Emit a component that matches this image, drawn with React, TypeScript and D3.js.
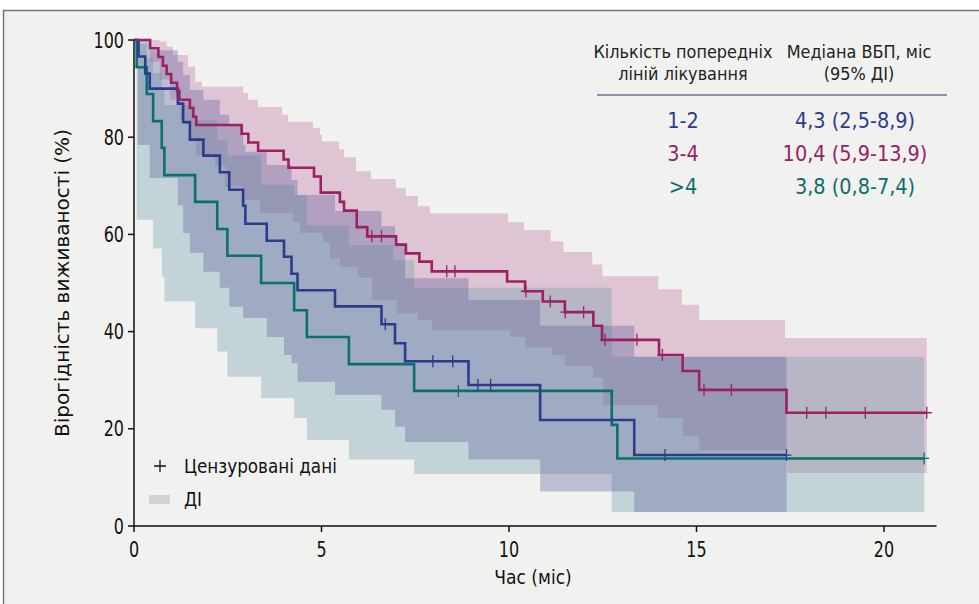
import * as d3 from 'd3';
import { useEffect, useRef } from 'react';

type Pt = [number, number];

const xTicks = [0, 5, 10, 15, 20];
const yTicks = [0, 20, 40, 60, 80, 100];

// 1-2 prior lines: KM drops [month, %], censored times, CI bounds
const steps12: Pt[] = [[0.12, 96.6], [0.3, 93.1], [0.42, 90.0], [1.17, 86.9], [1.31, 83.1], [1.49, 79.5], [1.85, 76.2], [2.29, 72.8], [2.54, 69.2], [2.91, 65.9], [2.97, 62.2], [3.54, 58.7], [4.0, 55.4], [4.2, 51.9], [4.36, 48.5], [5.36, 45.2], [6.6, 41.5], [6.96, 37.6], [7.23, 33.9], [8.92, 29.0], [10.83, 21.8], [13.34, 14.6]];
const censor12 = [6.7, 7.97, 8.5, 9.17, 9.51, 14.16, 17.4];
const end12 = 17.4;
const upper12: Pt[] = [[0, 100], [0.42, 97.9], [1.17, 95.5], [1.31, 92.8], [1.49, 89.7], [1.85, 87.7], [2.29, 84.6], [2.54, 82.5], [2.91, 78.4], [2.97, 77.0], [3.54, 74.3], [4.2, 71.2], [4.36, 68.1], [5.36, 64.8], [6.6, 61.7], [6.96, 58.2], [7.23, 51.0], [8.92, 46.5], [10.83, 41.2], [13.34, 34.8]];
const lower12: Pt[] = [[0, 100], [0.1, 78.4], [0.42, 71.6], [1.17, 66.0], [1.31, 60.3], [1.49, 56.2], [1.85, 52.3], [2.29, 49.0], [2.54, 45.1], [2.91, 42.8], [3.54, 38.9], [4.0, 35.2], [4.2, 33.5], [4.36, 29.7], [5.36, 27.0], [6.6, 23.9], [6.96, 20.4], [7.23, 17.3], [8.92, 13.7], [10.83, 7.1], [13.34, 2.9]];

// 3-4 prior lines
const steps34: Pt[] = [[0.43, 98.3], [0.65, 96.5], [0.77, 94.7], [0.87, 93.0], [0.99, 91.2], [1.15, 89.5], [1.21, 87.7], [1.49, 86.0], [1.58, 84.2], [1.66, 82.5], [2.87, 80.7], [3.05, 78.9], [3.31, 77.2], [3.99, 75.4], [4.12, 73.7], [4.8, 71.9], [4.98, 68.6], [5.49, 66.7], [5.6, 64.9], [5.94, 61.5], [6.22, 59.6], [6.99, 57.9], [7.25, 56.1], [7.61, 54.4], [7.94, 52.4], [9.95, 50.3], [10.43, 48.3], [10.9, 46.2], [11.49, 44.0], [12.25, 41.2], [12.48, 38.3], [14.0, 35.2], [14.63, 31.9], [15.07, 28.0], [17.4, 23.3]];
const censor34 = [6.34, 6.6, 8.34, 8.56, 10.45, 11.1, 11.5, 11.99, 12.56, 13.41, 14.09, 15.2, 15.93, 17.94, 18.45, 19.5, 21.14];
const end34 = 21.14;
const upper34: Pt[] = [[0, 100], [0.69, 99.7], [0.87, 98.6], [1.04, 96.9], [1.44, 94.5], [1.63, 91.4], [1.81, 90.4], [2.91, 89.1], [3.04, 87.7], [3.3, 86.2], [3.95, 84.6], [4.11, 83.2], [4.77, 81.9], [4.96, 80.5], [5.01, 79.1], [5.47, 77.5], [5.6, 75.9], [5.92, 73.0], [6.32, 71.4], [6.98, 69.5], [7.25, 67.9], [7.57, 65.8], [7.89, 64.3], [9.97, 62.5], [10.4, 60.9], [11.11, 58.6], [11.45, 56.4], [12.22, 53.8], [12.49, 51.4], [13.98, 48.7], [14.61, 45.5], [15.07, 42.4], [17.36, 38.7]];
const lower34: Pt[] = [[0, 100], [0.43, 95.5], [0.69, 91.8], [0.96, 87.7], [1.23, 83.5], [1.49, 79.4], [1.65, 76.3], [2.16, 74.1], [2.43, 69.8], [2.88, 67.1], [3.36, 64.4], [4.24, 62.6], [4.43, 60.3], [5.04, 58.4], [5.23, 55.1], [5.49, 53.3], [5.97, 51.2], [6.35, 46.5], [7.01, 43.8], [7.57, 42.4], [7.95, 40.3], [10.03, 38.9], [10.43, 36.8], [11.15, 35.2], [11.49, 32.9], [12.24, 30.5], [12.51, 24.9], [13.97, 22.2], [14.64, 18.5], [15.07, 15.6], [17.41, 10.9]];

// >4 prior lines
const steps4: Pt[] = [[0.07, 94.4], [0.34, 88.9], [0.51, 83.3], [0.74, 77.8], [0.81, 72.2], [1.63, 66.7], [2.22, 61.1], [2.49, 55.6], [3.39, 50.0], [4.27, 44.4], [4.61, 38.9], [5.73, 33.3], [7.47, 27.8], [12.74, 20.8], [12.89, 13.9]];
const censor4 = [8.65, 21.07];
const end4 = 21.07;
const upper4: Pt[] = [[0, 100], [0.07, 99.2], [0.34, 96.3], [0.51, 93.2], [0.74, 89.7], [0.81, 86.6], [1.63, 83.5], [2.22, 79.4], [2.49, 76.3], [3.39, 70.2], [4.27, 68.1], [4.61, 61.9], [5.73, 57.8], [6.91, 54.7], [7.47, 49.0], [12.74, 34.8]];
const lower4: Pt[] = [[0, 100], [0.07, 63.0], [0.51, 57.1], [0.74, 51.3], [0.81, 46.2], [1.63, 40.7], [2.22, 35.9], [2.49, 30.7], [3.39, 26.3], [4.27, 22.2], [4.61, 17.7], [5.73, 13.7], [7.47, 10.7], [12.74, 2.9]];

const tableRows = [
  { label: '1-2', median: '4,3 (2,5-8,9)', color: '#2d3b8e' },
  { label: '3-4', median: '10,4 (5,9-13,9)', color: '#972166' },
  { label: '>4', median: '3,8 (0,8-7,4)', color: '#0b6e6b' },
];

const FONT = "'DejaVu Sans', sans-serif";

function valueAt(steps: Pt[], t: number) {
  let v = 100;
  for (const [s, val] of steps) {
    if (s <= t) v = val;
    else break;
  }
  return v;
}

export default function App() {
  const ref = useRef<SVGSVGElement>(null);

  useEffect(() => {
    const svg = d3.select(ref.current);
    svg.selectAll('*').remove();

    const x = d3.scaleLinear().domain([0, 20]).range([134, 884]);
    const y = d3.scaleLinear().domain([0, 100]).range([526, 40]);

    // condensed-looking text: no narrow face installed, so squeeze horizontally
    const txt = (s: string | number, tx: number, ty: number, size: number, sx: number, anchor: string, fill: string) =>
      svg.append('text')
        .attr('transform', `translate(${tx},${ty}) scale(${sx},1)`)
        .attr('text-anchor', anchor)
        .attr('font-size', size).attr('font-family', FONT).attr('fill', fill)
        .text(s);

    // panel
    svg.append('rect').attr('x', 3).attr('y', 10).attr('width', 980).attr('height', 600).attr('fill', '#f1f2f0');
    svg.append('line').attr('x1', 3).attr('x2', 979).attr('y1', 10.5).attr('y2', 10.5).attr('stroke', '#777').attr('stroke-width', 1.5);
    svg.append('line').attr('x1', 3.5).attr('x2', 3.5).attr('y1', 10).attr('y2', 604).attr('stroke', '#777').attr('stroke-width', 1.5);

    const groups = [
      { steps: steps34, censor: censor34, end: end34, upper: upper34, lower: lower34, line: '#9a2164', fill: '#be719d' },
      { steps: steps4, censor: censor4, end: end4, upper: upper4, lower: lower4, line: '#0b706c', fill: '#6e9fab' },
      { steps: steps12, censor: censor12, end: end12, upper: upper12, lower: lower12, line: '#2b3c8d', fill: '#5c5f9c' },
    ];

    const area = d3.area<{ t: number; hi: number; lo: number }>()
      .curve(d3.curveStepAfter)
      .x(d => x(d.t)).y0(d => y(d.lo)).y1(d => y(d.hi));

    groups.forEach(g => {
      const times = Array.from(new Set([...g.upper.map(d => d[0]), ...g.lower.map(d => d[0])])).sort((a, b) => a - b);
      const pts = times.map(t => ({ t, hi: valueAt(g.upper, t), lo: valueAt(g.lower, t) }));
      const last = pts[pts.length - 1];
      pts.push({ t: g.end, hi: last.hi, lo: last.lo });
      svg.append('path').attr('d', area(pts)).attr('fill', g.fill).attr('fill-opacity', 0.35);
    });

    // axes
    const axis = svg.append('g').attr('stroke', '#111').attr('stroke-width', 1.5);
    axis.append('line').attr('x1', x(0)).attr('x2', x(21.4)).attr('y1', y(0)).attr('y2', y(0));
    axis.append('line').attr('x1', x(0)).attr('x2', x(0)).attr('y1', y(0)).attr('y2', y(100));
    yTicks.forEach(v => {
      axis.append('line').attr('x1', x(0) - 6).attr('x2', x(0)).attr('y1', y(v)).attr('y2', y(v));
      txt(v, x(0) - 10, y(v) + 7.5, 20.5, 0.78, 'end', '#111');
    });
    xTicks.forEach(v => {
      axis.append('line').attr('x1', x(v)).attr('x2', x(v)).attr('y1', y(0)).attr('y2', y(0) + 6);
      txt(v, x(v), 557, 20.5, 0.78, 'middle', '#111');
    });

    // KM lines
    const line = d3.line<Pt>().curve(d3.curveStepAfter).x(d => x(d[0])).y(d => y(d[1]));
    [groups[1], groups[2], groups[0]].forEach(g => {
      const pts: Pt[] = [[0, 100], ...g.steps, [g.end, g.steps[g.steps.length - 1][1]]];
      svg.append('path').attr('d', line(pts)).attr('fill', 'none').attr('stroke', g.line).attr('stroke-width', 2.6);
      g.censor.forEach(t => {
        const cx = x(t), cy = y(valueAt(g.steps, t));
        svg.append('path').attr('d', `M${cx - 5},${cy}H${cx + 5}M${cx},${cy - 6}V${cy + 6}`)
          .attr('stroke', g.line).attr('stroke-width', 1.3).attr('fill', 'none');
      });
    });

    // axis titles
    txt('Час (міс)', 533, 584, 19, 0.9, 'middle', '#111');
    svg.append('text').attr('transform', 'translate(69,283) rotate(-90)').attr('text-anchor', 'middle')
      .attr('font-size', 20).attr('font-family', FONT).attr('fill', '#111').text('Вірогідність виживаності (%)');

    // table
    const hdr = [
      { x: 683, lines: ['Кількість попередніх', 'ліній лікування'] },
      { x: 859, lines: ['Медіана ВБП, міс', '(95% ДІ)'] },
    ];
    hdr.forEach(h => h.lines.forEach((s, i) => txt(s, h.x, 58 + i * 22, 18.5, 0.87, 'middle', '#222')));
    svg.append('line').attr('x1', 597).attr('x2', 947).attr('y1', 95).attr('y2', 95).attr('stroke', '#2c2c6c').attr('stroke-width', 1);
    tableRows.forEach((r, i) => {
      const yy = 128 + i * 33;
      txt(r.label, 683, yy, 21, 0.92, 'middle', r.color);
      txt(r.median, 855, yy, 21, 0.92, 'middle', r.color);
    });

    // legend
    svg.append('path').attr('d', 'M154,466H166M160,460V472').attr('stroke', '#111').attr('stroke-width', 1.3);
    txt('Цензуровані дані', 184, 473, 20, 0.84, 'start', '#111');
    svg.append('rect').attr('x', 149).attr('y', 495).attr('width', 21).attr('height', 9).attr('fill', '#d3d3d6');
    txt('ДІ', 184, 506, 20, 0.84, 'start', '#111');
  }, []);

  return (
    <div style={{ position: 'absolute', left: 0, top: 0 }}>
      <svg ref={ref} width={979} height={604} style={{ display: 'block', background: '#fff' }} />
    </div>
  );
}
